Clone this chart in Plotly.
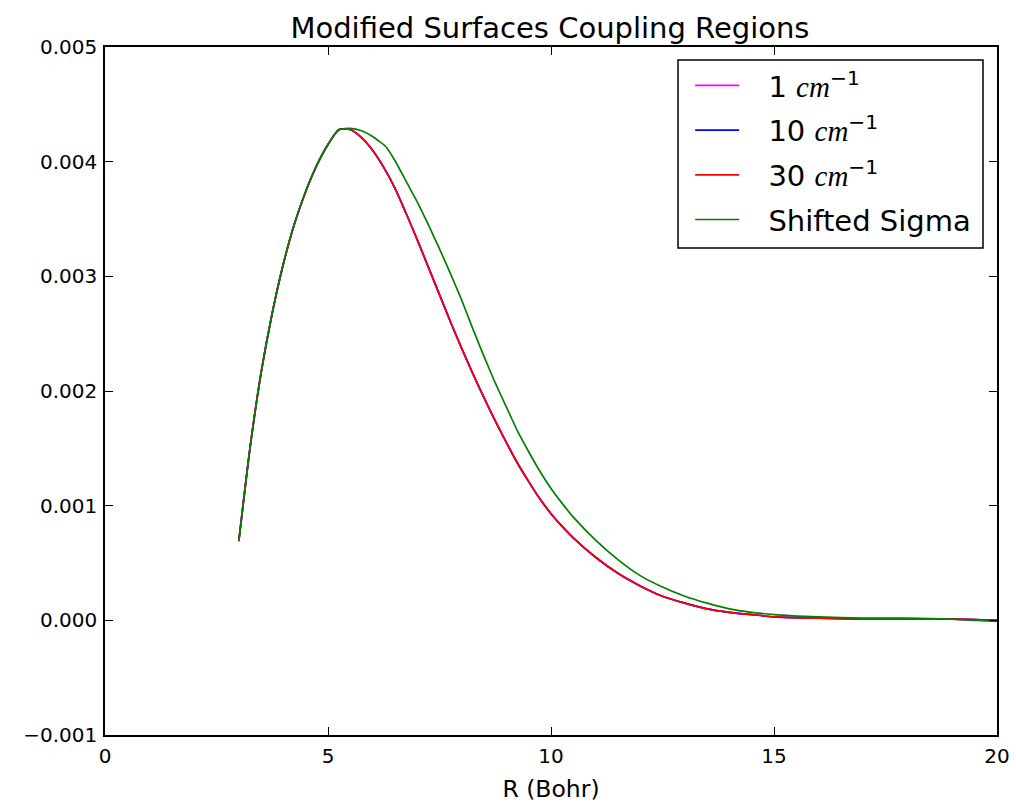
import plotly.graph_objects as go

# R grid (Bohr) and coupling values
R_main = [3.00, 3.25, 3.50, 3.75, 4.00, 4.25, 4.50, 4.75, 5.00, 5.25, 5.50, 5.75,
          6.00, 6.25, 6.50, 6.75, 7.00, 7.25, 7.50, 7.75, 8.00, 8.25, 8.50, 8.75,
          9.00, 9.25, 9.50, 9.75, 10.00, 10.25, 10.50, 11.00, 11.50, 12.00, 12.50,
          13.00, 13.50, 14.00, 14.50, 15.00, 16.00, 17.00, 18.00, 19.00, 20.00]

c1 = [0.00069, 0.00150, 0.00216, 0.00268, 0.00311, 0.00346, 0.00374, 0.00397,
      0.00415, 0.00428, 0.00428, 0.00421, 0.00410, 0.00395, 0.00377, 0.00355,
      0.00332, 0.00308, 0.00284, 0.00260, 0.00237, 0.00215, 0.00194, 0.00174,
      0.00155, 0.00137, 0.00121, 0.00106, 0.00093, 0.00082, 0.00072, 0.00055,
      0.00041, 0.00030, 0.00021, 0.00015, 0.00010, 0.00007, 0.00005, 0.00003,
      0.00002, 0.00001, 0.00001, 0.00001, 0.00000]
c10 = [0.00069, 0.00150, 0.00216, 0.00268, 0.00311, 0.00346, 0.00374, 0.00397,
       0.00415, 0.00428, 0.00428, 0.00421, 0.00410, 0.00395, 0.00377, 0.00355,
       0.00332, 0.00308, 0.00284, 0.00260, 0.00237, 0.00215, 0.00194, 0.00174,
       0.00155, 0.00137, 0.00121, 0.00106, 0.00093, 0.00082, 0.00072, 0.00055,
       0.00041, 0.00030, 0.00021, 0.00015, 0.00010, 0.00007, 0.00005, 0.00003,
       0.00002, 0.00001, 0.00001, 0.00001, 0.00000]
c30 = [0.00069, 0.00150, 0.00216, 0.00268, 0.00311, 0.00346, 0.00374, 0.00397,
       0.00415, 0.00428, 0.00428, 0.00421, 0.00410, 0.00395, 0.00377, 0.00355,
       0.00332, 0.00308, 0.00284, 0.00260, 0.00237, 0.00215, 0.00194, 0.00174,
       0.00155, 0.00137, 0.00121, 0.00106, 0.00093, 0.00082, 0.00072, 0.00055,
       0.00041, 0.00030, 0.00021, 0.00015, 0.00010, 0.00007, 0.00005, 0.00003,
       0.00002, 0.00001, 0.00001, 0.00001, 0.00000]

R_shift = [3.00, 3.25, 3.50, 3.75, 4.00, 4.25, 4.50, 4.75, 5.00, 5.25, 5.50, 5.75,
           6.00, 6.30, 6.50, 6.75, 7.00, 7.25, 7.50, 7.75, 8.00, 8.25, 8.50, 8.75,
           9.00, 9.25, 9.50, 9.75, 10.00, 10.25, 10.50, 11.00, 11.50, 12.00, 12.50,
           13.00, 13.50, 14.00, 14.50, 15.00, 16.00, 17.00, 18.00, 19.00, 20.00]
shifted = [0.00069, 0.00150, 0.00216, 0.00268, 0.00311, 0.00346, 0.00374, 0.00397,
           0.00415, 0.00428, 0.00429, 0.00427, 0.00422, 0.00413, 0.00401, 0.00383,
           0.00365, 0.00345, 0.00324, 0.00302, 0.00279, 0.00254, 0.00230, 0.00207,
           0.00186, 0.00165, 0.00147, 0.00130, 0.00115, 0.00102, 0.00090, 0.00070,
           0.00053, 0.00039, 0.00029, 0.00021, 0.00015, 0.00010, 0.00007, 0.00005,
           0.00003, 0.00002, 0.00002, 0.00001, -0.00001]

pad = '\u00a0\u00a0\u2009'
names = [pad + '1 <span style="font-family:Liberation Serif"><i>cm</i></span><sup>−1</sup>',
         pad + '10 <span style="font-family:Liberation Serif"><i>cm</i></span><sup>−1</sup>',
         pad + '30 <span style="font-family:Liberation Serif"><i>cm</i></span><sup>−1</sup>',
         pad + 'Shifted Sigma']
colors = ['#ff00ff', '#0000ff', '#ff0000', '#008000']
shapes = ['spline', 'spline', 'spline', 'spline']
smooth = [0.7, 0.7, 0.7, 0.45]

y_ticks = [-0.001, 0.000, 0.001, 0.002, 0.003, 0.004, 0.005]
x_ticks = [0, 5, 10, 15, 20]

fig = go.Figure()
series = [(R_main, c1), (R_main, c10), (R_main, c30), (R_shift, shifted)]
for i, ((xs, ys), n, c, sh, sm) in enumerate(zip(series, names, colors, shapes, smooth)):
    fig.add_trace(go.Scatter(x=xs, y=ys, mode='lines', name=n,
                             legendgroup=f'g{i}',
                             line=dict(color=c, width=1.7, shape=sh, smoothing=sm)))

axis_common = dict(showline=True, linecolor='black', linewidth=1.5, mirror='ticks',
                   ticks='inside', ticklen=8, tickwidth=1.2, tickcolor='black',
                   showgrid=False, zeroline=False, ticklabelstandoff=2, automargin=False,
                   tickfont=dict(family='DejaVu Sans', size=20, color='black'))

# legend frame (drawn as a box behind a borderless legend)
fig.add_shape(type='rect', xref='paper', yref='paper',
              x0=0.6424, x1=0.9843, y0=0.7078, y1=0.981,
              line=dict(color='black', width=1.5), fillcolor='white', layer='above')

fig.update_layout(
    width=1016, height=807,
    margin=dict(l=105, r=19, t=47, b=72),
    paper_bgcolor='white', plot_bgcolor='white',
    font=dict(family='DejaVu Sans', color='black'),
    title=dict(text='Modified Surfaces Coupling Regions', x=0.5413, xanchor='center',
               y=1 - 28 / 807, yanchor='middle', yref='container',
               font=dict(size=29, color='black')),
    xaxis=dict(range=[0, 20], tickvals=x_ticks, ticktext=[str(v) for v in x_ticks],
               title=dict(text='R (Bohr)', font=dict(size=23.5), standoff=14),
               **axis_common),
    yaxis=dict(range=[-0.001, 0.005], tickvals=y_ticks, tickformat='.3f', **axis_common),
    legend=dict(x=0.656, xanchor='left', y=0.981, yanchor='top',
                borderwidth=0, bgcolor='rgba(0,0,0,0)',
                font=dict(size=29, color='black'), itemwidth=44,
                tracegroupgap=4),
    showlegend=True,
)

fig.write_html('out.html')
